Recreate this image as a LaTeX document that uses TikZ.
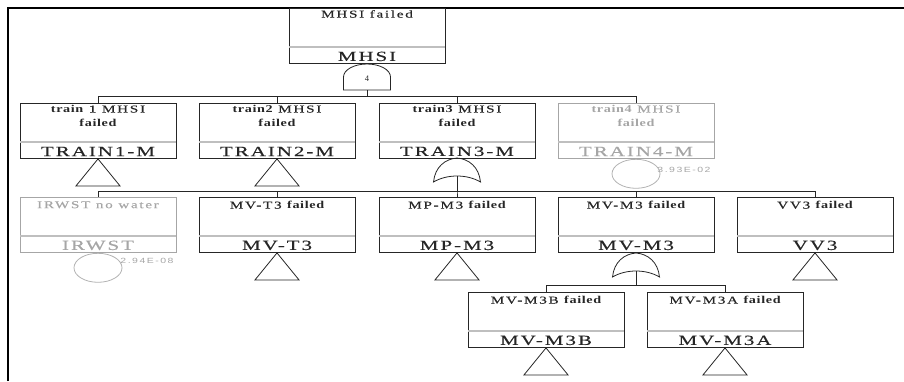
\documentclass[tikz,border=0pt]{standalone}
\usepackage{fontspec}
\usetikzlibrary{shapes.geometric}
\setmainfont{Liberation Serif}
\newfontfamily\idfont[FakeStretch=1.45,LetterSpace=16,FakeBold=0.3]{Liberation Serif}
\newfontfamily\wordfont[FakeStretch=1.35,LetterSpace=6]{Liberation Serif}
\newfontfamily\labfont[FakeStretch=1.5,LetterSpace=14,FakeBold=0.35]{Liberation Serif}
\newfontfamily\probfont[FakeStretch=1.4,LetterSpace=20]{Liberation Sans}
\newcommand{\lw}[1]{{\wordfont\bfseries #1}}
\colorlet{evmain}{black!85}
\colorlet{evfade}{black!35}

\begin{document}
\begin{tikzpicture}[x=1pt, y=-1pt,
  evbox/.style={draw, line width=0.9pt, minimum width=156pt, minimum height=55pt, inner sep=0pt},
  evtop/.style={font=\idfont\fontsize{10.5}{14}\selectfont, align=center, inner sep=1pt},
  evlab/.style={font=\labfont\fontsize{14}{14}\selectfont, inner sep=0pt},
  divider/.style={line width=2.4pt, black!25},
  gate/.style={line width=0.8pt},
  link/.style={line width=0.9pt, evmain},
  basic/.style={ellipse, draw=black!30, line width=0.8pt, minimum width=48pt, minimum height=29pt, inner sep=0pt},
  prob/.style={font=\probfont\fontsize{7.5}{9}\selectfont, text=evfade, inner sep=0pt, anchor=west}]
\useasboundingbox (0,0) rectangle (904,381);
% Frame
\draw[line width=2pt] (8,381) -- (8,8) -- (904,8);
% Events
\foreach \n/\x/\y/\c/\d/\t/\l in {
    mhsi/367/8/evmain/1/{MHSI failed}/MHSI,
    t1/98/103/evmain/1/{\lw{train} 1 MHSI\\\lw{failed}}/TRAIN1-M,
    t2/277/103/evmain/1/{\lw{train2} MHSI\\\lw{failed}}/TRAIN2-M,
    t3/457/103/evmain/1/{\lw{train3} MHSI\\\lw{failed}}/TRAIN3-M,
    t4/636/103/evfade/1/{\lw{train4} MHSI\\\lw{failed}}/TRAIN4-M,
    irwst/98/197/evfade/3/{IRWST no water}/IRWST,
    mvt3/277/197/evmain/3/{MV-T3 \lw{failed}}/MV-T3,
    mpm3/457/197/evmain/3/{MP-M3 \lw{failed}}/MP-M3,
    mvm3/636/197/evmain/3/{MV-M3 \lw{failed}}/MV-M3,
    vv3/815/197/evmain/3/{VV3 \lw{failed}}/VV3,
    mvm3b/546/292/evmain/3/{MV-M3B \lw{failed}}/MV-M3B,
    mvm3a/725/292/evmain/3/{MV-M3A \lw{failed}}/MV-M3A}
{
    \node[evbox, draw=\c, anchor=north] (\n) at (\x,\y) {};
    \draw[divider] ([xshift=0.45pt,yshift=17pt]\n.south west) -- ([xshift=-0.45pt,yshift=17pt]\n.south east);
    \node[evtop, text=\c, anchor=north] (\n-top) at ([yshift=-\d pt]\n.north) {\t};
    \node[evlab, text=\c] (\n-lab) at ([yshift=7.5pt]\n.south) {\l};
}
% AND gate below top event
\draw[gate, evmain] (343.5,90) -- (343.5,77) .. controls (343.5,69.8) and (354,64) .. (367,64)
    .. controls (380,64) and (390.5,69.8) .. (390.5,77) -- (390.5,90) -- cycle;
\node[font=\fontsize{8.5}{8.5}\selectfont, text=evmain] (and1) at (367,79) {4};
\coordinate (and1-out) at (367,90);
% OR gates
\foreach \n/\cx/\t in {or1/457/158, or2/636/253} {
    \draw[gate, evmain] (\cx-23.5,\t+24) .. controls (\cx-22,\t+9) and (\cx-12,\t+1) .. (\cx,\t)
        .. controls (\cx+12,\t+1) and (\cx+22,\t+9) .. (\cx+23.5,\t+24)
        .. controls (\cx+10,\t+16) and (\cx-10,\t+16) .. (\cx-23.5,\t+24) -- cycle;
    \coordinate (\n-out) at (\cx,\t+18);
}
% Transfer triangles
\foreach \n in {t1,t2,mvt3,mpm3,vv3,mvm3b,mvm3a}
    \draw[gate, evmain] (\n.south) -- ++(-22,27) -- ++(44,0) -- cycle;
% Basic events
\node[basic, anchor=north] (t4-e) at (t4.south) {};
\node[prob] (t4-p) at ([xshift=4pt,yshift=-7pt]t4-e.north east) {3.93E-02};
\node[basic, anchor=north] (irwst-e) at (irwst.south) {};
\node[prob] (irwst-p) at ([xshift=5pt,yshift=-4pt]irwst-e.north east) {2.94E-08};
% Connectors
\foreach \n in {t1,t2,t3,t4}
    \draw[link] (and1-out) -- ++(0,6) -| (\n.north);
\foreach \n in {irwst,mvt3,mpm3,mvm3,vv3}
    \draw[link] (or1-out) -- ++(0,15) -| (\n.north);
\foreach \n in {mvm3b,mvm3a}
    \draw[link] (or2-out) -- ++(0,14) -| (\n.north);
\end{tikzpicture}
\end{document}
